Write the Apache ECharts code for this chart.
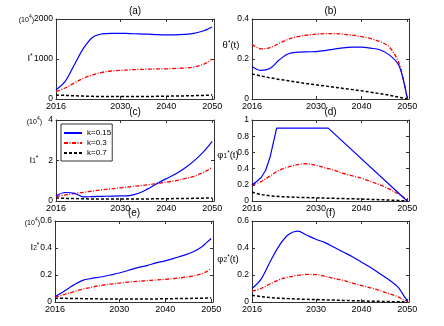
<!DOCTYPE html>
<html>
<head>
<meta charset="utf-8">
<script src="https://cdn.jsdelivr.net/npm/echarts@6/dist/echarts.min.js"></script>
<style>
html, body { margin: 0; padding: 0; background: #fff; }
#main { width: 444px; height: 326px; }
</style>
</head>
<body>
<div id="main"></div>
<script>
// sample years shared by most curves
var years = [2016, 2018, 2020, 2022, 2024, 2026, 2028, 2030, 2032, 2034, 2036, 2038, 2040, 2042, 2044, 2046, 2048, 2049, 2050];
var xTicks = [2016, 2030, 2040, 2050];
var legendNames = ['k=0.15', 'k=0.3', 'k=0.7'];

// (a) I*
var aBlue = [230, 440, 855, 1270, 1545, 1627, 1643, 1643, 1635, 1627, 1620, 1610, 1605, 1605, 1615, 1640, 1700, 1745, 1800];
var aRed = [190, 275, 400, 520, 605, 665, 700, 715, 730, 740, 745, 752, 755, 765, 775, 800, 860, 920, 1000];
var aBlack = [100, 90, 80, 72, 66, 62, 60, 60, 60, 62, 64, 66, 70, 74, 78, 84, 90, 95, 100];

// (b) theta*(t)
var bBlue = [0.163, 0.143, 0.154, 0.196, 0.226, 0.234, 0.236, 0.237, 0.242, 0.249, 0.256, 0.259, 0.259, 0.254, 0.246, 0.222, 0.175, 0.11, 0.005];
var bRed = [0.274, 0.251, 0.257, 0.279, 0.299, 0.312, 0.319, 0.324, 0.327, 0.327, 0.324, 0.319, 0.312, 0.302, 0.287, 0.262, 0.19, 0.115, 0.005];
var bBlack = [0.125, 0.115, 0.106, 0.098, 0.091, 0.084, 0.077, 0.071, 0.065, 0.059, 0.053, 0.047, 0.041, 0.034, 0.027, 0.019, 0.01, 0.005, 0];

// (c) I1*
var cBlue = [0.25, 0.42, 0.38, 0.2, 0.22, 0.23, 0.24, 0.25, 0.27, 0.38, 0.6, 0.86, 1.1, 1.33, 1.62, 1.97, 2.4, 2.66, 2.95];
var cRed = [0.22, 0.3, 0.37, 0.43, 0.49, 0.55, 0.6, 0.65, 0.7, 0.75, 0.8, 0.86, 0.93, 1.0, 1.1, 1.22, 1.4, 1.52, 1.66];
var cBlack = [0.15, 0.13, 0.12, 0.11, 0.1, 0.1, 0.1, 0.1, 0.1, 0.1, 0.1, 0.11, 0.11, 0.12, 0.12, 0.13, 0.14, 0.15, 0.15];

// (d) phi1*(t) -- blue has its own breakpoints
var dBlueYears = [2016, 2017, 2018, 2019, 2020, 2021, 2021.4, 2032.7, 2050];
var dBlue = [0.2, 0.24, 0.29, 0.38, 0.55, 0.8, 0.9, 0.9, 0];
var dRed = [0.2, 0.24, 0.31, 0.38, 0.42, 0.45, 0.46, 0.44, 0.41, 0.38, 0.34, 0.31, 0.28, 0.24, 0.2, 0.15, 0.09, 0.055, 0.01];
var dBlack = [0.11, 0.08, 0.065, 0.055, 0.05, 0.045, 0.042, 0.039, 0.036, 0.033, 0.03, 0.027, 0.024, 0.02, 0.016, 0.012, 0.007, 0.004, 0];

// (e) I2*
var eBlue = [0.04, 0.08, 0.125, 0.16, 0.175, 0.185, 0.2, 0.215, 0.235, 0.255, 0.27, 0.29, 0.305, 0.325, 0.345, 0.37, 0.41, 0.44, 0.47];
var eRed = [0.035, 0.055, 0.075, 0.095, 0.11, 0.123, 0.132, 0.14, 0.147, 0.153, 0.158, 0.163, 0.168, 0.174, 0.182, 0.192, 0.21, 0.225, 0.25];
var eBlack = [0.028, 0.027, 0.026, 0.025, 0.024, 0.023, 0.022, 0.022, 0.022, 0.022, 0.023, 0.023, 0.024, 0.025, 0.026, 0.027, 0.028, 0.029, 0.03];

// (f) phi2*(t)
var fBlue = [0.1, 0.17, 0.3, 0.42, 0.5, 0.525, 0.495, 0.465, 0.44, 0.405, 0.37, 0.335, 0.295, 0.255, 0.21, 0.165, 0.11, 0.06, 0.01];
var fRed = [0.08, 0.1, 0.135, 0.165, 0.185, 0.198, 0.204, 0.203, 0.19, 0.175, 0.16, 0.14, 0.122, 0.104, 0.085, 0.062, 0.038, 0.02, 0.005];
var fBlack = [0.05, 0.04, 0.033, 0.028, 0.025, 0.022, 0.02, 0.018, 0.016, 0.014, 0.012, 0.01, 0.008, 0.006, 0.005, 0.003, 0.002, 0.001, 0];

var yMax = [2000, 0.4, 4, 1, 0.6, 0.6];
var yStep = [1000, 0.2, 2, 0.2, 0.2, 0.2];
var titles = ['(a)', '(b)', '(c)', '(d)', '(e)', '(f)'];

function pairs(xs, ys) {
  return xs.map(function (x, i) { return [x, ys[i]]; });
}

var panels = [
  [pairs(years, aBlue), pairs(years, aRed), pairs(years, aBlack)],
  [pairs(years, bBlue), pairs(years, bRed), pairs(years, bBlack)],
  [pairs(years, cBlue), pairs(years, cRed), pairs(years, cBlack)],
  [pairs(dBlueYears, dBlue), pairs(years, dRed), pairs(years, dBlack)],
  [pairs(years, eBlue), pairs(years, eRed), pairs(years, eBlack)],
  [pairs(years, fBlue), pairs(years, fRed), pairs(years, fBlack)]
];

var grids = [
  { left: 56, top: 19, width: 158, height: 80 },
  { left: 252, top: 19, width: 157, height: 80 },
  { left: 56, top: 120, width: 158, height: 81 },
  { left: 252, top: 120, width: 157, height: 81 },
  { left: 55, top: 221, width: 158, height: 81 },
  { left: 252, top: 221, width: 157, height: 81 }
];

var font = 'Liberation Sans, Arial, sans-serif';
var axisColor = '#333';
var lineStyles = [
  { color: '#0000ff', width: 1.2, type: 'solid' },
  { color: '#ff0000', width: 1.3, type: [4, 1.5, 1, 1.5] },
  { color: '#000000', width: 1.5, type: [3, 2] }
];

var xAxes = [], yAxes = [], series = [], graphics = [];

grids.forEach(function (g, i) {
  var tickCommon = { inside: true, length: 3, lineStyle: { color: axisColor } };
  var lineCommon = { show: true, onZero: false, lineStyle: { color: axisColor, width: 1 } };
  xAxes.push({
    gridIndex: i, type: 'value', min: 2016, max: 2050.4, position: 'bottom',
    axisLine: lineCommon,
    axisTick: Object.assign({ customValues: xTicks }, tickCommon),
    axisLabel: {
      customValues: xTicks, color: '#000', fontSize: 9, fontFamily: font, margin: 3,
      formatter: function (v) { return String(v); }
    },
    splitLine: { show: false }
  });
  xAxes.push({
    gridIndex: i, type: 'value', min: 2016, max: 2050.4, position: 'top',
    axisLine: lineCommon,
    axisTick: Object.assign({ customValues: xTicks }, tickCommon),
    axisLabel: { show: false },
    splitLine: { show: false }
  });
  yAxes.push({
    gridIndex: i, type: 'value', min: 0, max: yMax[i], interval: yStep[i], position: 'left',
    axisLine: lineCommon,
    axisTick: tickCommon,
    axisLabel: {
      color: '#000', fontSize: 8.5, fontFamily: font, margin: 3,
      formatter: function (v) { return String(+v.toFixed(2)); }
    },
    splitLine: { show: false }
  });
  yAxes.push({
    gridIndex: i, type: 'value', min: 0, max: yMax[i], interval: yStep[i], position: 'right',
    axisLine: lineCommon,
    axisTick: tickCommon,
    axisLabel: { show: false },
    splitLine: { show: false }
  });

  panels[i].forEach(function (data, k) {
    series.push({
      name: legendNames[k],
      type: 'line',
      xAxisIndex: i * 2,
      yAxisIndex: i * 2,
      data: data,
      symbol: 'none',
      smooth: (i === 3 && k === 0) ? false : 0.35,
      lineStyle: lineStyles[k],
      itemStyle: { color: lineStyles[k].color },
      z: 3 - k
    });
  });

  // panel titles
  graphics.push({
    type: 'text', x: g.left + g.width / 2, y: g.top - 8,
    style: { text: titles[i], fontSize: 10, fontFamily: font, fill: '#000', align: 'center', verticalAlign: 'middle' }
  });
});

var rich = {
  b: { fontSize: 9.5, fontFamily: font, color: '#000' },
  s: { fontSize: 6.5, fontFamily: font, verticalAlign: 'top', color: '#000' },
  d: { fontSize: 6.5, fontFamily: font, verticalAlign: 'bottom', color: '#000' },
  p: { fontSize: 7, lineHeight: 9, fontFamily: font, verticalAlign: 'bottom', color: '#000' },
  u: { fontSize: 5, lineHeight: 5, fontFamily: font, verticalAlign: 'top', color: '#000' }
};

var yNames = [
  { text: '{b|I}{s|*}', x: 30, y: 58 },
  { text: '{b|θ}{s|*}{b|(t)}', x: 231, y: 45 },
  { text: '{b|I}{d|1}{s|*}', x: 34, y: 160 },
  { text: '{b|φ}{d|1}{s|*}{b|(t)}', x: 228, y: 155 },
  { text: '{b|I}{d|2}{s|*}', x: 35, y: 247 },
  { text: '{b|φ}{d|2}{s|*}{b|(t)}', x: 228, y: 259 }
];
yNames.forEach(function (n) {
  graphics.push({
    type: 'text', x: n.x, y: n.y,
    style: { text: n.text, rich: rich, fontSize: 9.5, fontFamily: font, fill: '#000', align: 'center', verticalAlign: 'middle' }
  });
});

// (10^4) unit marks
[[34, 19], [42, 121], [40, 222]].forEach(function (p) {
  graphics.push({
    type: 'text', x: p[0], y: p[1],
    style: { text: '{p|(10}{u|4}{p|)}', rich: rich, fontSize: 7, fontFamily: font, fill: '#000', align: 'right', verticalAlign: 'middle' }
  });
});

var chart = echarts.init(document.getElementById('main'), null, { renderer: 'canvas' });
chart.setOption({
  animation: false,
  backgroundColor: '#fff',
  grid: grids,
  xAxis: xAxes,
  yAxis: yAxes,
  legend: {
    data: legendNames,
    orient: 'vertical',
    left: 61, top: 124,
    itemWidth: 18, itemHeight: 8, itemGap: 2,
    padding: [5, 1, 4, 2],
    backgroundColor: '#fff',
    borderColor: '#000', borderWidth: 0.8,
    itemStyle: { opacity: 0 },
    textStyle: { fontSize: 8, fontFamily: font, color: '#000' },
    selectedMode: false
  },
  graphic: graphics,
  series: series
});
</script>
</body>
</html>
